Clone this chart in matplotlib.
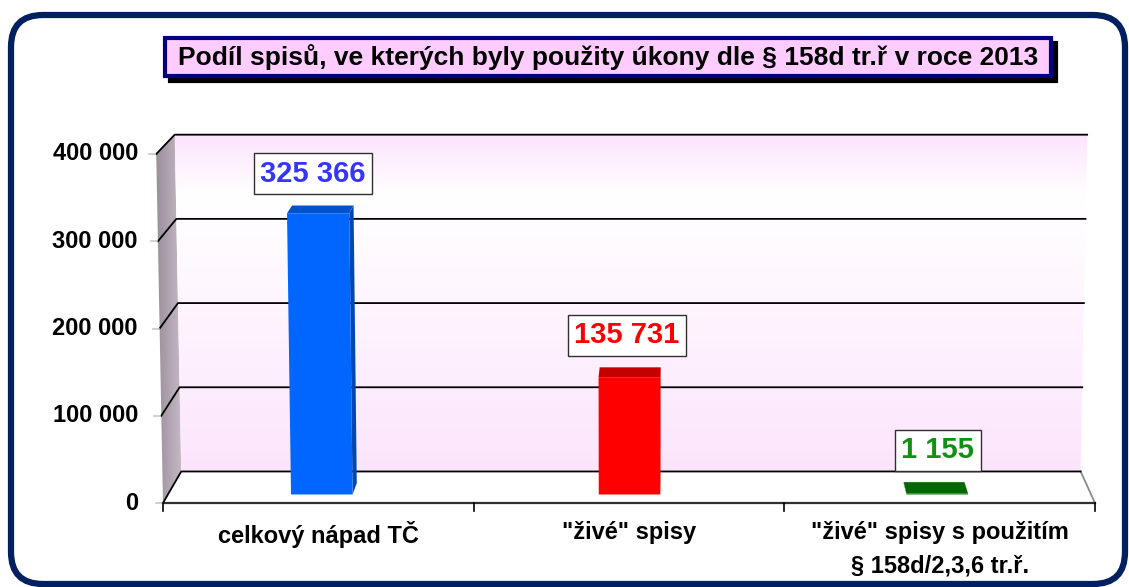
import matplotlib
matplotlib.use("Agg")
import matplotlib.pyplot as plt
import numpy as np
from matplotlib.patches import Polygon, FancyBboxPatch, Rectangle
from matplotlib.colors import LinearSegmentedColormap

plt.rcParams['font.family'] = ['Liberation Sans', 'DejaVu Sans']
plt.rcParams['font.weight'] = 'bold'

# --- data ---
title = 'Podíl spisů, ve kterých byly použity úkony dle § 158d tr.ř v roce 2013'
categories = ['celkový nápad TČ', '"živé" spisy', '"živé" spisy s použitím\n§ 158d/2,3,6 tr.ř.']
values = [325366, 135731, 1155]
value_labels = ['325 366', '135 731', '1 155']
yticks = [0, 100000, 200000, 300000, 400000]
ytick_labels = ['0', '100 000', '200 000', '300 000', '400 000']
ymax = 400000

front_colors = ['#0066ff', '#ff0000', '#007800']
top_colors = ['#0052cc', '#c40000', '#006800']
side_colors = ['#0048b0', '#a80000', '#005400']
label_colors = ['#3535ff', '#ff0000', '#139013']

W, H = 1129, 587
fig = plt.figure(figsize=(W / 100, H / 100), dpi=100)

# front plane of the 3d box carries the value scale
ax = fig.add_axes([163 / W, 84 / H, 932 / W, 349 / H])
ax.set_xlim(-0.5, len(categories) - 0.5)
ax.set_ylim(0, ymax)
ax.axis('off')

# overlay in pixel units for the 3d drawing
pax = fig.add_axes([0, 0, 1, 1], zorder=2)
pax.patch.set_alpha(0)

# perspective: slight widening to the top, depth goes to a vanishing point
CX, TILT = 629, 0.0145
VX, VY, DEPTH = 684, H + 398, 0.035
BAR_W, T0, T1 = 0.2, 0.27, 0.63


def proj(x, v, t):
    px, py = ax.transData.transform((x, v))
    px = CX + (px - CX) * (1 + TILT * v / ymax)
    s = 1 - DEPTH * t
    return VX + s * (px - VX), VY + s * (py - VY)


def grad_fill(pts, colors, horizontal=False, z=1):
    poly = Polygon(pts, closed=True, facecolor='none', edgecolor='none')
    pax.add_patch(poly)
    xs, ys = zip(*pts)
    cmap = LinearSegmentedColormap.from_list('g', colors)
    arr = np.linspace(0, 1, 256)
    arr = arr[None, :] if horizontal else arr[:, None]
    im = pax.imshow(arr, cmap=cmap, origin='upper', aspect='auto', zorder=z,
                    extent=[min(xs), max(xs), min(ys), max(ys)])
    im.set_clip_path(poly)


xl, xr = -0.5, len(categories) - 0.5

# outer rounded frame
pax.add_patch(FancyBboxPatch((11, 3), 1114, 569, boxstyle='round,pad=0,rounding_size=32',
                             facecolor='white', edgecolor='#002060', lw=4.5, zorder=0))

# side wall + back wall
side = [proj(xl, 0, 0), proj(xl, ymax, 0), proj(xl, ymax, 1), proj(xl, 0, 1)]
grad_fill(side, ['#9a8e9a', '#c4b8c4'], horizontal=True, z=1)
back = [proj(xl, 0, 1), proj(xr, 0, 1), proj(xr, ymax, 1), proj(xl, ymax, 1)]
grad_fill(back, [(0, '#fde4fd'), (0.18, '#ffffff'), (0.3, '#fffcff'), (1, '#fce5fc')], z=1)

# floor
floor = [proj(xl, 0, 0), proj(xr, 0, 0), proj(xr, 0, 1), proj(xl, 0, 1)]
pax.add_patch(Polygon(floor, closed=True, facecolor='white', edgecolor='none', zorder=2))
pax.plot(*zip(proj(xr, 0, 0), proj(xr, 0, 1)), color='#8a8a8a', lw=1.3, zorder=3)
pax.plot(*zip(proj(xl, 0, 0), proj(xr, 0, 0)), color='#303030', lw=1.6, zorder=3)

# gridlines on back and side wall, value axis labels
for v, lab in zip(yticks, ytick_labels):
    pax.plot(*zip(proj(xl, v, 0), proj(xl, v, 1), proj(xr, v, 1)), color='black', lw=1.3, zorder=3)
    fx, fy = proj(xl, v, 0)
    pax.plot([fx - 7, fx - 1], [fy, fy], color='#c8c8c8', lw=1.2, zorder=3)
    pax.text(138, fy, lab, ha='right', va='center', fontsize=17, fontweight='bold',
             color='black', zorder=5)

# category ticks and labels
for k in range(len(categories) + 1):
    tx, ty = proj(k - 0.5, 0, 0)
    pax.plot([tx, tx], [ty, ty - 8], color='black', lw=1.2, zorder=3)
for i, cat in enumerate(categories):
    tx, ty = proj(i, 0, 0)
    pax.text(tx, ty - 18, cat, ha='center', va='top', fontsize=17, fontweight='bold',
             linespacing=1.6, color='black', zorder=5)

# bars
for i, v in enumerate(values):
    x0, x1 = i - BAR_W / 2, i + BAR_W / 2
    sx = x1 if proj(i, 0, 0)[0] < VX else x0
    side_f = [proj(sx, 0, T0), proj(sx, v, T0), proj(sx, v, T1), proj(sx, 0, T1)]
    top_f = [proj(x0, v, T0), proj(x1, v, T0), proj(x1, v, T1), proj(x0, v, T1)]
    front_f = [proj(x0, 0, T0), proj(x1, 0, T0), proj(x1, v, T0), proj(x0, v, T0)]
    pax.add_patch(Polygon(side_f, closed=True, facecolor=side_colors[i], edgecolor='none', zorder=4))
    pax.add_patch(Polygon(top_f, closed=True, facecolor=top_colors[i], edgecolor='none', zorder=4))
    pax.add_patch(Polygon(front_f, closed=True, facecolor=front_colors[i], edgecolor='none', zorder=4))
    lx = proj(i, v, 0)[0] - 2
    ly = proj(i, v, T1)[1] + 32
    pax.text(lx, ly, value_labels[i], ha='center', va='center', fontsize=21, fontweight='bold',
             color=label_colors[i], zorder=6,
             bbox=dict(boxstyle='square,pad=0.22', facecolor='white', edgecolor='#303030', lw=1))

# title with shadowed box
TX, TY, TW, TH = 608, H - 57, 886, 38
pax.add_patch(Rectangle((TX - TW / 2 + 5, TY - TH / 2 - 5), TW, TH, facecolor='black',
                        edgecolor='black', lw=3, zorder=5))
pax.add_patch(Rectangle((TX - TW / 2, TY - TH / 2), TW, TH, facecolor='#ffccff',
                        edgecolor='#000080', lw=3, zorder=6))
pax.text(TX, TY, title, ha='center', va='center', fontsize=19, fontweight='bold',
         color='black', zorder=7)

pax.set_xlim(0, W)
pax.set_ylim(0, H)
pax.axis('off')

fig.savefig('out.png', dpi=100)
